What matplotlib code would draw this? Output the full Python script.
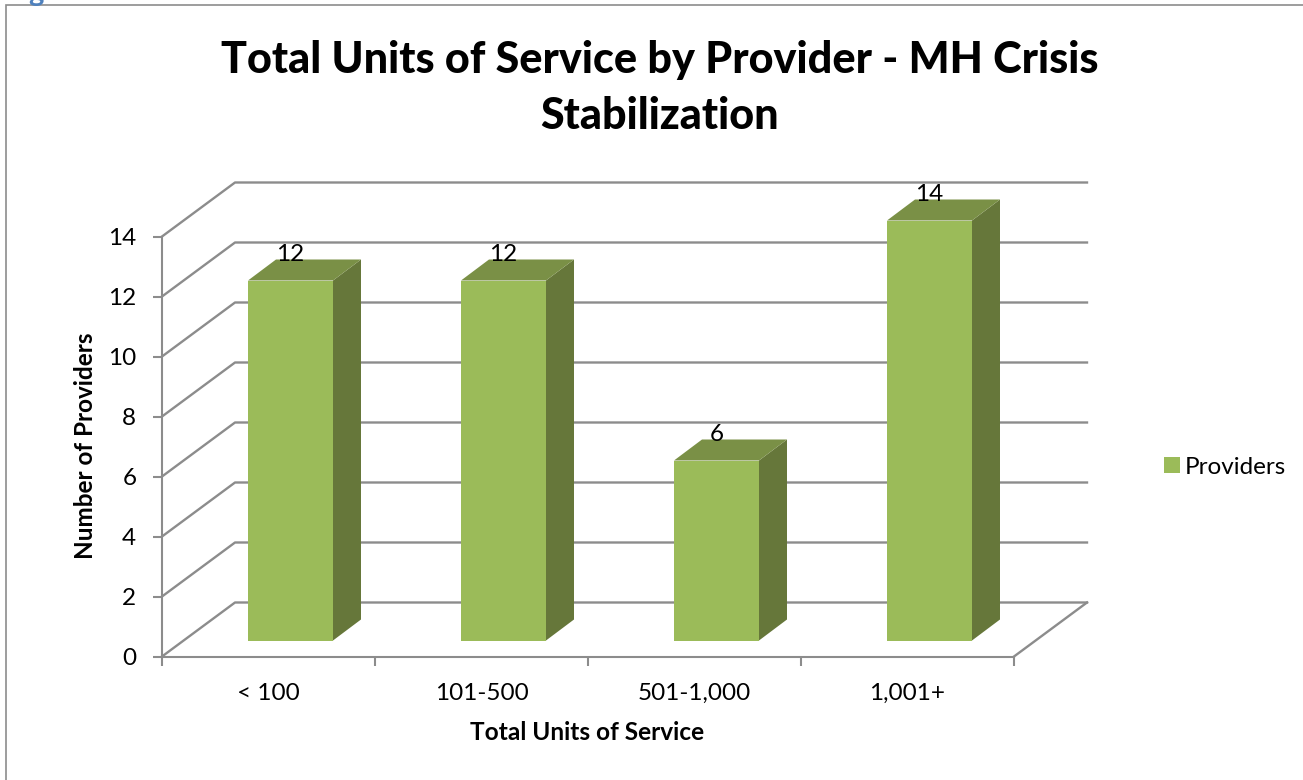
import matplotlib
matplotlib.use("Agg")
import matplotlib.pyplot as plt
from matplotlib.patches import Patch, Polygon, Rectangle
from matplotlib.lines import Line2D

CATEGORIES = ["< 100", "101-500", "501-1,000", "1,001+"]
PROVIDERS = [12, 12, 6, 14]
Y_TICKS = [0, 2, 4, 6, 8, 10, 12, 14]
TITLE = "Total Units of Service by Provider - MH Crisis\nStabilization"
XLABEL = "Total Units of Service"
YLABEL = "Number of Providers"
SERIES = "Providers"

W, H = 1303, 780
# plot geometry in pixels
X0, Y0 = 162, 656
CAT_PX = 213.0
UNIT_PX = 30.0
DEPTH_X, DEPTH_Y = 73 / CAT_PX, 54 / UNIT_PX
BAR_W = 85 / CAT_PX
BAR_SHIFT_X, BAR_SHIFT_Y = 22 / CAT_PX, 16 / UNIT_PX
BAR_DX, BAR_DY = 28 / CAT_PX, 21 / UNIT_PX

GREY = "#8c8c8c"
FRONT = "#9bbb59"
TOP = "#7a9046"
SIDE = "#66773a"
FS = 17.5

plt.rcParams["font.family"] = ["Lato", "DejaVu Sans"]

fig = plt.figure(figsize=(W / 100, H / 100), dpi=100)
fig.patch.set_facecolor("white")

# chart border, runs off the right and bottom edges
fig.add_artist(Rectangle((6 / W, -0.01), 1.1, 1 - 5 / H + 0.01, transform=fig.transFigure,
                         fill=False, edgecolor=GREY, linewidth=1.2))
fig.text(28 / W, 1 - 1 / H, "g", color="#4f81bd", fontsize=21, fontweight="bold", va="baseline", ha="left")

ax_w = 925
ax_h = 474
ax = fig.add_axes([X0 / W, 1 - (Y0 + 0.5) / H, ax_w / W, ax_h / H])
ax.set_xlim(0, ax_w / CAT_PX)
ax.set_ylim(0, ax_h / UNIT_PX)
ax.patch.set_visible(False)

n = len(CATEGORIES)
for s in ["top", "right"]:
    ax.spines[s].set_visible(False)
ax.spines["left"].set_bounds(0, Y_TICKS[-1])
ax.spines["bottom"].set_bounds(0, n)
for s in ["left", "bottom"]:
    ax.spines[s].set_color(GREY)
    ax.spines[s].set_linewidth(1.5)

ax.set_yticks(Y_TICKS)
ax.set_xticks(range(n + 1))
ax.set_xticklabels([])
ax.set_xticks([i + 0.5 for i in range(n)], minor=True)
ax.set_xticklabels(CATEGORIES, minor=True)
ax.tick_params(axis="y", which="major", length=6.5, width=1.5, color=GREY, labelsize=FS, pad=12)
ax.tick_params(axis="x", which="major", length=6.5, width=1.5, color=GREY)
ax.tick_params(axis="x", which="minor", length=0, labelsize=FS, pad=19)

# gridlines: side wall and back wall
for v in Y_TICKS:
    ax.add_line(Line2D([0, DEPTH_X, DEPTH_X + n], [v, v + DEPTH_Y, v + DEPTH_Y],
                       color=GREY, lw=1.7, zorder=1, clip_on=False))
ax.add_line(Line2D([n, n + DEPTH_X], [0, DEPTH_Y], color=GREY, lw=1.7, zorder=1, clip_on=False))

xs = [i + 0.5 + BAR_SHIFT_X for i in range(n)]
bars = ax.bar(xs, PROVIDERS, width=BAR_W, bottom=BAR_SHIFT_Y, color=FRONT, zorder=3, linewidth=0)
for rect, val in zip(bars, PROVIDERS):
    x0 = rect.get_x()
    x1 = x0 + rect.get_width()
    b = rect.get_y()
    t = b + rect.get_height()
    ax.add_patch(Polygon([(x1, b), (x1 + BAR_DX, b + BAR_DY), (x1 + BAR_DX, t + BAR_DY), (x1, t)],
                         closed=True, facecolor=SIDE, edgecolor="none", zorder=3))
    ax.add_patch(Polygon([(x0, t), (x1, t), (x1 + BAR_DX, t + BAR_DY), (x0 + BAR_DX, t + BAR_DY)],
                         closed=True, facecolor=TOP, edgecolor="none", zorder=3))
    ax.text((x0 + x1) / 2, t + 26 / UNIT_PX, str(val), ha="center", va="center", fontsize=FS,
            color="black", zorder=4)

fig.text(660 / W, 1 - 88 / H, TITLE, ha="center", va="center", fontsize=31.1, fontweight="black",
         color="black", linespacing=1.48)
fig.text(587 / W, 1 - 732 / H, XLABEL, ha="center", va="center", fontsize=17.6, fontweight="bold")
fig.text(86 / W, 1 - 446 / H, YLABEL, ha="center", va="center", rotation=90, fontsize=17.5, fontweight="bold")

fig.legend(handles=[Patch(facecolor=FRONT, label=SERIES)], loc="center left",
           bbox_to_anchor=(1164 / W, 1 - 467 / H), frameon=False, fontsize=FS,
           handlelength=0.65, handleheight=0.65, handletextpad=0.2, borderpad=0, borderaxespad=0)

fig.savefig("out.png", dpi=100)
